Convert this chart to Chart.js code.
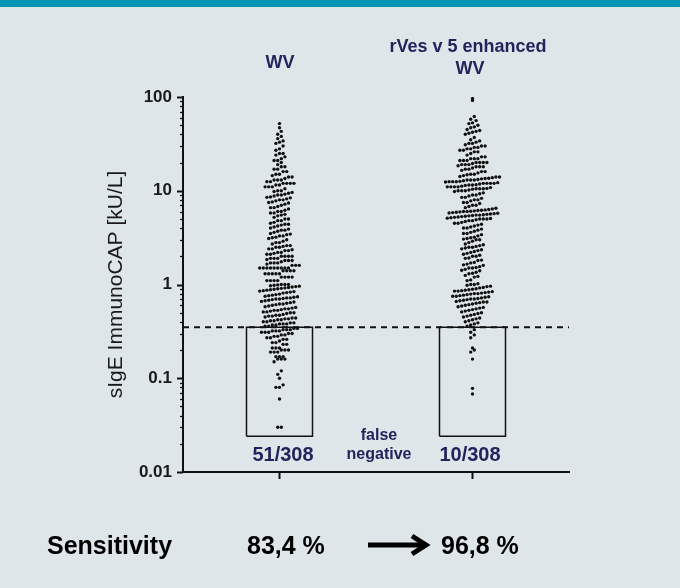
<!DOCTYPE html>
<html>
<head>
<meta charset="utf-8">
<script src="https://cdn.jsdelivr.net/npm/chart.js@4.4.1/dist/chart.umd.min.js"></script>
<style>
  body { margin: 0; background: #dfe6e9; }
  #page { position: relative; width: 680px; height: 588px; overflow: hidden; background: #dfe6e9; font-family: "Liberation Sans", Arial, sans-serif; }
  #topbar { position: absolute; left: 0; top: 0; width: 680px; height: 7px; background: #0895b4; }
  #wrap { position: absolute; left: 0; top: 0; width: 680px; height: 588px; }
  .lbl { position: absolute; transform: translate(-50%, -50%); white-space: nowrap; font-weight: bold; color: #24235c; }
  .big { position: absolute; transform: translateY(-50%); white-space: nowrap; font-weight: bold; color: #000; font-size: 25px; }
</style>
</head>
<body>
<div id="page">
  <div id="topbar"></div>
  <div id="wrap"><canvas id="chart"></canvas></div>

  <div class="lbl" style="left:280px; top:62px; font-size:18px;">WV</div>
  <div class="lbl" style="left:468px; top:46px; font-size:18px;">rVes v 5 enhanced</div>
  <div class="lbl" style="left:470px; top:68px; font-size:18px;">WV</div>

  <div class="lbl" style="left:283px; top:454px; font-size:20px;">51/308</div>
  <div class="lbl" style="left:379px; top:435px; font-size:16px;">false</div>
  <div class="lbl" style="left:379px; top:454px; font-size:16px;">negative</div>
  <div class="lbl" style="left:470px; top:454px; font-size:20px;">10/308</div>

  <div class="big" style="left:47px; top:545px;">Sensitivity</div>
  <div class="big" style="left:247px; top:545px;">83,4 %</div>
  <svg style="position:absolute; left:366px; top:533px;" width="66" height="24">
    <line x1="2" y1="12" x2="56" y2="12" stroke="#000" stroke-width="5"/>
    <polyline points="46,3 60,12 46,21" fill="none" stroke="#000" stroke-width="5" stroke-linejoin="miter"/>
  </svg>
  <div class="big" style="left:441px; top:545px;">96,8 %</div>
</div>

<script>
// sIgE values (kU/L), 308 patients per column
const wvValues = [
  // below cut-off
  0.34, 0.34, 0.33, 0.33, 0.33, 0.32, 0.32, 0.32, 0.31, 0.31, 0.31, 0.30, 0.30,
  0.29, 0.29, 0.28, 0.28, 0.27, 0.27, 0.26, 0.26,
  0.25, 0.24, 0.24, 0.23, 0.23,
  0.21, 0.21, 0.21, 0.20, 0.20, 0.20, 0.19, 0.19, 0.19,
  0.17, 0.17, 0.17, 0.16, 0.16, 0.16, 0.15,
  0.12, 0.11, 0.10, 0.085, 0.08, 0.08, 0.06, 0.03, 0.03,
  // 0.35 - 1
  0.36, 0.36, 0.37, 0.37, 0.38, 0.38, 0.38,
  0.39, 0.39, 0.40, 0.40, 0.41, 0.41,
  0.42, 0.42, 0.43, 0.43, 0.44, 0.44, 0.45,
  0.46, 0.46, 0.47, 0.47, 0.48, 0.49,
  0.50, 0.50, 0.51, 0.51, 0.52, 0.53, 0.53,
  0.54, 0.55, 0.55, 0.56, 0.57, 0.58,
  0.59, 0.60, 0.61, 0.62, 0.62, 0.63, 0.64,
  0.65, 0.66, 0.67, 0.68, 0.69, 0.70, 0.70, 0.72,
  0.71, 0.72, 0.73, 0.74, 0.75, 0.76,
  0.77, 0.78, 0.79, 0.81, 0.82, 0.83, 0.84,
  0.85, 0.86, 0.87, 0.88, 0.89, 0.90, 0.91,
  0.92, 0.93, 0.94, 0.95, 0.96, 0.97, 0.98, 0.99,
  // 1 - 10
  1.0, 1.0, 1.0, 1.1, 1.1, 1.1, 1.1, 1.2, 1.2, 1.2, 1.2, 1.3, 1.3, 1.3, 1.3, 1.3,
  1.4, 1.4, 1.4, 1.4, 1.5, 1.5, 1.5, 1.5, 1.5, 1.5, 1.5, 1.5, 1.5, 2.8, 3.8, 4.8,
  1.6, 1.6, 1.6, 1.7, 1.7, 1.7, 1.8, 1.8, 1.8, 1.9, 1.9, 1.9, 2.0, 2.0, 2.0, 2.0,
  2.1, 2.1, 2.2, 2.2, 2.3, 2.3, 2.4, 2.4, 2.5, 2.5, 2.6, 2.6, 2.7, 2.8, 2.9, 3.0,
  3.1, 3.2, 3.3, 3.4, 3.5, 3.6, 3.7, 3.8, 3.9, 4.0, 4.1, 4.2, 4.3, 4.4, 4.5,
  4.6, 4.8, 5.0, 5.0, 5.2, 5.4, 5.6, 5.8, 6.0, 6.0, 6.2, 6.4, 6.6, 6.8, 7.0,
  7.2, 7.4, 7.6, 7.8, 8.0, 8.0, 8.2, 8.4, 8.6, 8.8, 9.0, 9.0, 9.2, 9.4, 9.6, 9.8,
  3.3, 4.4, 5.8, 6.6, 8.5, 1.65, 1.75, 1.85, 2.15, 2.35, 2.55, 3.15, 3.45, 5.5, 7.5,
  // 10 - 100
  10, 10, 10.5, 11, 11, 11, 11.5, 12, 12, 12, 12.5, 13, 13, 14, 14, 15, 15, 16, 17, 17,
  18, 19, 20, 21, 22, 23, 24, 25, 27, 28, 30, 32, 33, 34, 36, 38, 40, 43, 47, 52,
  11.5, 12, 12.5, 13, 13.5, 14.5, 16, 18, 21, 25
];

const rvesValues = [
  // below cut-off
  0.33, 0.31, 0.29, 0.27, 0.21, 0.20, 0.19, 0.16, 0.078, 0.068,
  // 0.35 - 1
  0.98, 0.96, 0.95, 0.93, 0.92, 0.90, 0.89, 0.88, 0.87, 0.86, 0.85, 0.84, 0.83, 0.82, 0.81, 0.80, 0.79, 0.78, 0.77, 0.76,
  0.75, 0.74, 0.73, 0.72, 0.71, 0.70, 0.69, 0.68, 0.67, 0.66, 0.65, 0.64, 0.63, 0.62, 0.61, 0.60, 0.59, 0.58, 0.57, 0.56,
  0.55, 0.54, 0.53, 0.52, 0.51, 0.50, 0.49, 0.48, 0.47, 0.46, 0.45, 0.44, 0.43, 0.42, 0.41, 0.40, 0.39, 0.38, 0.37, 0.36,
  0.85, 0.80, 0.75, 0.70, 0.65,
  // 1 - 10
  9.8, 9.5, 9.3, 9.0, 9.0, 8.8, 8.5, 8.5, 8.3, 8.0, 8.0, 7.8, 7.5, 7.5, 7.3, 7.0, 7.0, 6.8, 6.6, 6.5,
  6.4, 6.3, 6.2, 6.1, 6.0, 6.0, 5.9, 5.8, 5.7, 5.6, 5.5, 5.5, 5.4, 5.3, 5.2, 5.1, 5.0, 5.0, 5.0, 4.9,
  4.8, 4.8, 4.7, 4.6, 4.5, 4.5, 4.4, 4.3, 4.2, 4.1, 4.0, 4.0, 3.9, 3.8, 3.7, 3.6, 3.5, 3.5, 3.4, 3.3,
  3.2, 3.1, 3.0, 3.0, 2.9, 2.8, 2.7, 2.6, 2.5, 2.5, 2.4, 2.3, 2.2, 2.1, 2.0, 2.0, 1.9, 1.8, 1.7, 1.6,
  1.5, 1.5, 1.4, 1.3, 1.2, 1.1, 1.0, 1.0,
  5.05, 5.15, 5.25, 5.35, 5.45, 5.55, 5.65, 5.75, 5.85, 5.95, 6.05, 6.15, 6.25,
  1.02, 1.12, 1.22, 1.32, 1.42, 1.52, 1.62, 1.72, 1.82, 1.92,
  2.05, 2.15, 2.25, 2.35, 2.45, 2.55, 2.65, 1.25, 1.35, 1.45, 1.55, 1.65, 3.05, 3.15,
  // 10 - 100
  96, 92,
  62, 58, 56, 53, 52, 50, 48, 47, 45, 44, 43, 42, 41, 40,
  37, 35, 34, 33, 32, 32, 31, 30, 30, 29, 29, 28, 28, 27, 27, 26, 26, 25,
  24, 23, 23, 22, 22, 22, 21, 21, 21, 20, 20, 20, 20, 19.5, 19, 19, 19, 18.5, 18, 18, 18, 17.5, 17, 17,
  16.5, 16, 16, 15.5, 15, 15, 14.5, 14, 14, 13.5, 13, 13, 13, 12.5, 12.5, 12.5, 12, 12, 12, 12,
  11.5, 11.5, 11, 11, 11, 11, 10.5, 10.5, 10.5, 10, 10, 10,
  10.2, 10.4, 10.6, 10.8, 11.2, 11.4, 11.6, 11.8, 12.2, 12.4, 12.6, 12.8, 13.2, 13.4, 13.6, 13.8, 14.2, 14.8
];

const groups = [1, 2];            // x position of each column
const cutOff = 0.35;              // positivity threshold (kU/L)
const boxFloor = 0.024;           // lower edge of the false-negative boxes
const yTicks = [0.01, 0.1, 1, 10, 100];
const yTickLabels = ['0.01', '0.1', '1', '10', '100'];

const DOT_GAP = 3.6;   // px between dots in a row
const ROW_PX = 5.2;    // px height of a swarm row
const BOX_HALF = 0.171;

function boxPath(cx) {
  return [
    { x: cx - BOX_HALF, y: boxFloor }, { x: cx - BOX_HALF, y: cutOff },
    { x: cx + BOX_HALF, y: cutOff }, { x: cx + BOX_HALF, y: boxFloor },
    { x: cx - BOX_HALF, y: boxFloor }
  ];
}

// axis tick marks (major decades + minor 2..9) and category ticks
const tickMarks = {
  id: 'tickMarks',
  afterDraw(chart) {
    const { ctx, scales: { x, y }, chartArea } = chart;
    ctx.save();
    ctx.strokeStyle = '#111';
    for (let i = 0; i < yTicks.length; i++) {
      const d = yTicks[i];
      for (let m = 1; m <= (i === yTicks.length - 1 ? 1 : 9); m++) {
        const py = Math.round(y.getPixelForValue(d * m)) + 0.5;
        const len = m === 1 ? 6 : 3;
        ctx.lineWidth = m === 1 ? 2 : 1.3;
        ctx.beginPath();
        ctx.moveTo(chartArea.left - len, py);
        ctx.lineTo(chartArea.left, py);
        ctx.stroke();
      }
    }
    ctx.lineWidth = 2;
    groups.forEach(g => {
      const px = x.getPixelForValue(g);
      ctx.beginPath();
      ctx.moveTo(px, chartArea.bottom);
      ctx.lineTo(px, chartArea.bottom + 7);
      ctx.stroke();
    });
    ctx.restore();
  }
};

const chart = new Chart(document.getElementById('chart'), {
  type: 'scatter',
  data: {
    datasets: [
      {
        type: 'line', data: [{ x: 0.5, y: cutOff }, { x: 2.5, y: cutOff }],
        borderColor: '#111', borderWidth: 2, borderDash: [6, 5], pointRadius: 0
      },
      { type: 'line', data: boxPath(groups[0]), borderColor: '#111', borderWidth: 1.5, pointRadius: 0, tension: 0 },
      { type: 'line', data: boxPath(groups[1]), borderColor: '#111', borderWidth: 1.5, pointRadius: 0, tension: 0 },
      { label: 'WV', data: [], pointRadius: 1.7, backgroundColor: '#111', borderWidth: 0 },
      { label: 'rVes v 5 enhanced WV', data: [], pointRadius: 1.7, backgroundColor: '#111', borderWidth: 0 }
    ]
  },
  options: {
    responsive: true,
    maintainAspectRatio: false,
    animation: false,
    layout: { padding: { top: 97, right: 111, bottom: 106, left: 0 } },
    plugins: { legend: { display: false }, tooltip: { enabled: false } },
    scales: {
      x: {
        type: 'linear', min: 0.5, max: 2.5,
        ticks: { display: false },
        grid: { display: false, drawTicks: false },
        border: { display: true, color: '#111', width: 2 },
        afterFit: s => { s.height = 10; }
      },
      y: {
        type: 'logarithmic', min: 0.01, max: 100,
        afterBuildTicks: s => { s.ticks = yTicks.map(v => ({ value: v })); },
        ticks: {
          padding: 11,
          color: '#1a1a1a',
          font: { family: 'Liberation Sans', size: 17, weight: 'bold' },
          callback: (v) => yTickLabels[yTicks.indexOf(v)] ?? ''
        },
        grid: { display: false, drawTicks: false },
        border: { display: true, color: '#111', width: 2 },
        title: {
          display: true,
          text: 'sIgE ImmunoCAP [kU/L]',
          color: '#1a1a1a',
          font: { family: 'Liberation Sans', size: 21 },
          padding: { top: 104, bottom: 0 }
        },
        afterFit: s => { s.width = 183; }
      }
    }
  },
  plugins: [tickMarks]
});

// GraphPad-style swarm: values in the same pixel row are spread sideways
function swarm(values, cx) {
  const xs = chart.scales.x, ys = chart.scales.y;
  const perPx = (xs.max - xs.min) / xs.width;
  const rows = new Map();
  values.slice().sort((a, b) => a - b).forEach(v => {
    const r = Math.floor(ys.getPixelForValue(v) / ROW_PX);
    if (!rows.has(r)) rows.set(r, []);
    rows.get(r).push(v);
  });
  const pts = [];
  rows.forEach(list => {
    list.forEach((v, i) => {
      pts.push({ x: cx + (i - (list.length - 1) / 2) * DOT_GAP * perPx, y: v });
    });
  });
  return pts;
}

chart.data.datasets[3].data = swarm(wvValues, groups[0]);
chart.data.datasets[4].data = swarm(rvesValues, groups[1]);
chart.update('none');
</script>
</body>
</html>
